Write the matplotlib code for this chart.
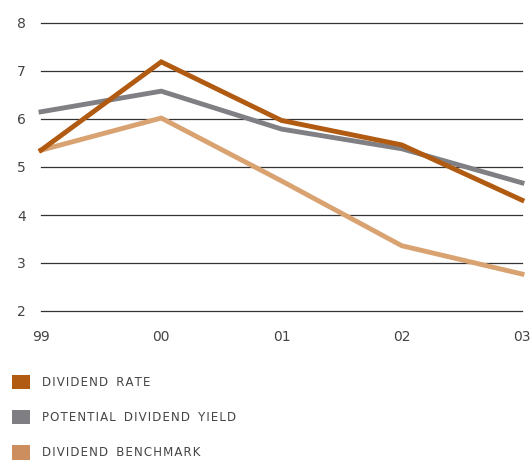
import numpy as np
import matplotlib.pyplot as plt
from matplotlib.patches import Patch

years = ["99", "00", "01", "02", "03"]
dividend_rate = [5.35, 7.19, 5.97, 5.46, 4.31]
potential_yield = [6.15, 6.58, 5.79, 5.38, 4.67]
dividend_benchmark = [5.35, 6.02, 4.71, 3.36, 2.77]

series_names = ["DIVIDEND RATE", "POTENTIAL DIVIDEND YIELD", "DIVIDEND BENCHMARK"]
line_colors = ["#B05A12", "#808084", "#D9A271"]
patch_colors = ["#B05A12", "#7E7E83", "#CC8E5E"]


def spaced(s):
    # fake letter-spacing with hair spaces
    return "\u200a".join(s.replace(" ", "\u2002"))


fig = plt.figure(figsize=(5.31, 4.66), dpi=100)
ax = fig.add_axes([41 / 531, 1 - 311 / 466, (522 - 41) / 531, (311 - 23) / 466])

x = np.arange(len(years))
# draw back to front: benchmark, yield, rate
ax.plot(x, dividend_benchmark, color=line_colors[2], lw=3.5, solid_joinstyle="miter", zorder=3)
ax.plot(x, potential_yield, color=line_colors[1], lw=3.5, solid_joinstyle="miter", zorder=4)
ax.plot(x, dividend_rate, color=line_colors[0], lw=3.5, solid_joinstyle="miter", zorder=5)

ax.set_xlim(0, len(years) - 1)
ax.set_ylim(2, 8)
ax.set_yticks(range(2, 9))
ax.set_xticks(x)
ax.set_xticklabels(years)
ax.yaxis.grid(True, color="#333333", lw=0.9)
ax.set_axisbelow(True)
for gl in ax.get_ygridlines():
    gl.set_clip_on(False)
for sp in ax.spines.values():
    sp.set_visible(False)
ax.tick_params(length=0, labelsize=10, labelcolor="#444444")
ax.tick_params(axis="y", pad=11)
ax.tick_params(axis="x", pad=14)
for ln in ax.lines:
    ln.set_clip_on(False)

handles = [Patch(facecolor=c, edgecolor="none") for c in patch_colors]
fig.legend(handles, [spaced(n) for n in series_names],
           loc="upper left", bbox_to_anchor=(12 / 531, 1 - 375 / 466),
           frameon=False, handlelength=1.5, handleheight=1.5,
           handletextpad=1.0, labelspacing=1.75, borderpad=0,
           borderaxespad=0, prop={"size": 8.5}, labelcolor="#444444")

fig.savefig("out.png", dpi=100, facecolor="white")
